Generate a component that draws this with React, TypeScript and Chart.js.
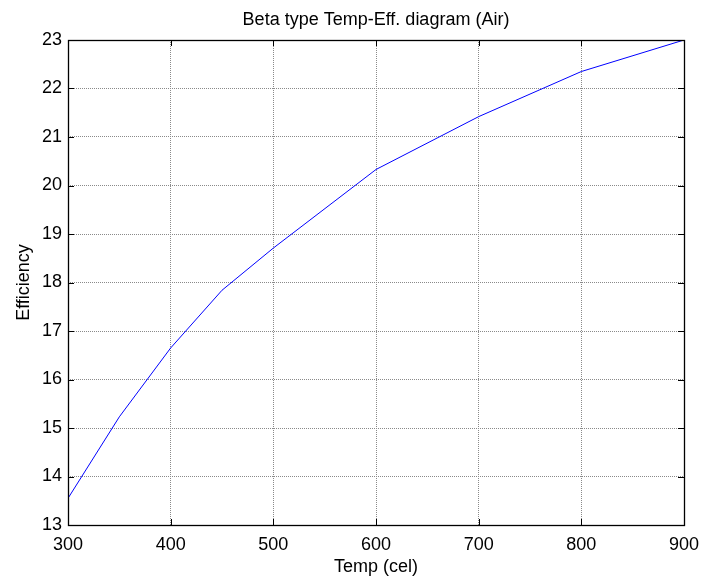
import React, { useEffect, useRef } from "react";
import { Chart, registerables } from "chart.js";

Chart.register(...registerables);

const temps: number[] = [300, 350, 400, 450, 500, 600, 700, 800, 900];
const efficiency: number[] = [13.55, 15.23, 16.65, 17.84, 18.71, 20.33, 21.42, 22.35, 23.0];
const titleText = "Beta type Temp-Eff. diagram (Air)";
const xLabel = "Temp (cel)";
const yLabel = "Efficiency";

const FONT = '"Liberation Sans", Arial, sans-serif';
const FSIZE = 18;

const matlabPlugin = {
  id: "matlabFrame",
  afterDraw(chart: any) {
    const { ctx, chartArea } = chart;
    const { left, right, top, bottom } = chartArea;
    const xs = chart.scales.x;
    const ys = chart.scales.y;
    ctx.save();
    ctx.strokeStyle = "#000";
    ctx.lineWidth = 1.3;
    ctx.setLineDash([]);
    ctx.strokeRect(Math.round(left) + 0.5, Math.round(top) + 0.5, Math.round(right - left), Math.round(bottom - top));
    ctx.lineWidth = 1;
    const tl = 6;
    ctx.beginPath();
    xs.ticks.forEach((t: any) => {
      const px = Math.round(xs.getPixelForValue(t.value)) + 0.5;
      ctx.moveTo(px, bottom);
      ctx.lineTo(px, bottom - tl);
      ctx.moveTo(px, top);
      ctx.lineTo(px, top + tl);
    });
    ys.ticks.forEach((t: any) => {
      const py = Math.round(ys.getPixelForValue(t.value)) + 0.5;
      ctx.moveTo(left, py);
      ctx.lineTo(left + tl, py);
      ctx.moveTo(right, py);
      ctx.lineTo(right - tl, py);
    });
    ctx.stroke();
    ctx.fillStyle = "#000";
    ctx.font = `${FSIZE}px ${FONT}`;
    ctx.textAlign = "center";
    ctx.textBaseline = "alphabetic";
    const cx = (left + right) / 2;
    ctx.fillText(titleText, cx, 25);
    ctx.fillText(xLabel, cx, 572);
    ctx.translate(28.5, (top + bottom) / 2);
    ctx.rotate(-Math.PI / 2);
    ctx.fillText(yLabel, 0, 0);
    ctx.restore();
  },
};

export default function App() {
  const ref = useRef<HTMLCanvasElement | null>(null);
  useEffect(() => {
    if (!ref.current) return;
    const chart = new Chart(ref.current, {
      type: "line",
      data: {
        datasets: [
          {
            data: temps.map((t, i) => ({ x: t, y: efficiency[i] })),
            borderColor: "#0000ff",
            borderWidth: 1,
            pointRadius: 0,
            fill: false,
            tension: 0,
          },
        ],
      },
      options: {
        animation: false,
        responsive: false,
        devicePixelRatio: 1,
        layout: { padding: { left: 0, right: 18, top: 40, bottom: 0 } },
        plugins: { legend: { display: false }, tooltip: { enabled: false }, title: { display: false } },
        scales: {
          x: {
            type: "linear",
            min: 300,
            max: 900,
            afterFit: (s: any) => {
              s.height = 51;
              s.paddingLeft = 0;
              s.paddingRight = 0;
            },
            ticks: { stepSize: 100, color: "#000", font: { family: FONT, size: FSIZE }, padding: 9, maxRotation: 0, autoSkip: false },
            grid: { color: "#8a8a8a", lineWidth: 1, drawTicks: false },
            border: { display: false, dash: [1, 1] },
          },
          y: {
            type: "linear",
            min: 13,
            max: 23,
            afterFit: (s: any) => {
              s.width = 68;
              s.paddingTop = 0;
              s.paddingBottom = 0;
            },
            ticks: { stepSize: 1, color: "#000", font: { family: FONT, size: FSIZE }, padding: 6, autoSkip: false },
            grid: { color: "#8a8a8a", lineWidth: 1, drawTicks: false },
            border: { display: false, dash: [1, 1] },
          },
        },
      },
      plugins: [matlabPlugin],
    });
    return () => chart.destroy();
  }, []);
  return (
    <div style={{ position: "absolute", left: 0, top: 0, width: 702, height: 576, background: "#fff" }}>
      <canvas ref={ref} width={702} height={576} />
    </div>
  );
}
